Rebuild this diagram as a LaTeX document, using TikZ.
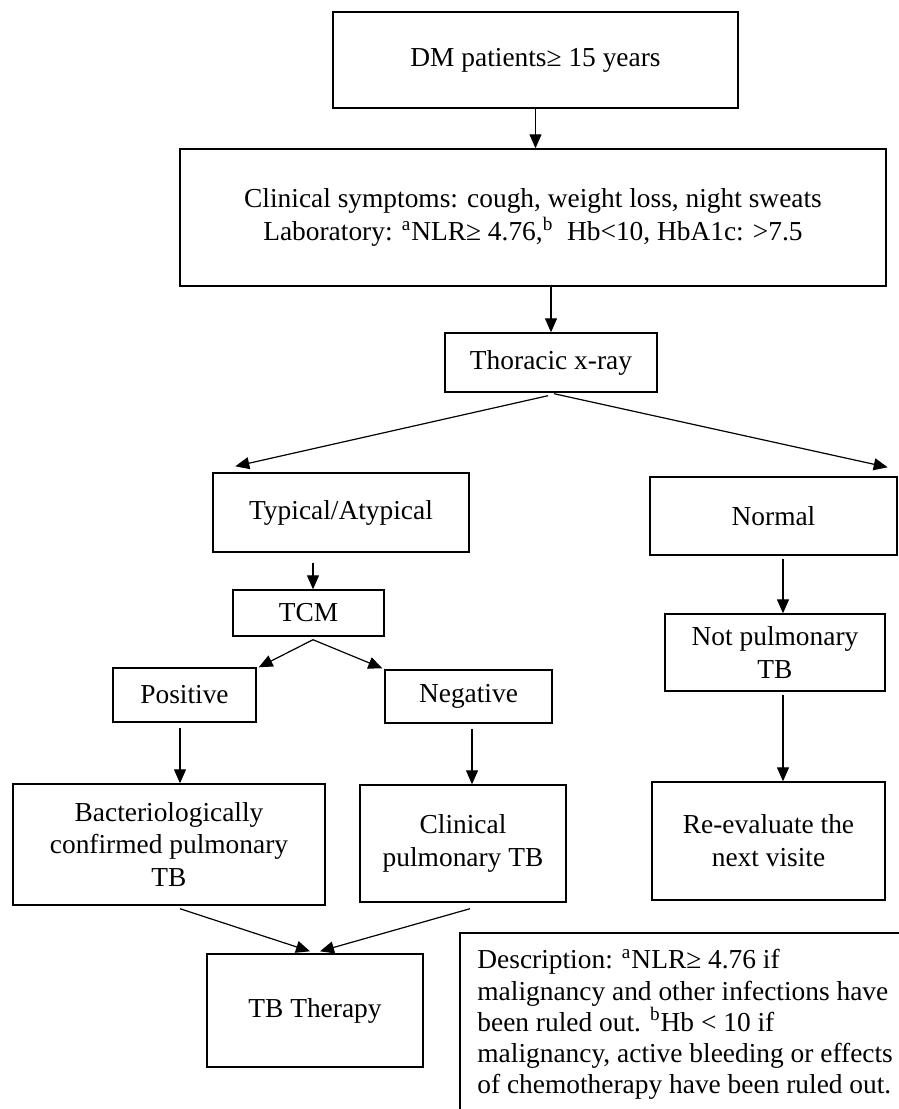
\documentclass[tikz,border=0pt]{standalone}
\usepackage{fontspec}
\setmainfont{Liberation Serif}
\usetikzlibrary{arrows.meta,calc}
\begin{document}
\begin{tikzpicture}[x=0.5pt,y=-0.5pt,
  font=\fontsize{13.7}{16.4}\selectfont,
  box/.style={draw, line width=0.7pt, inner sep=2pt, align=center},
  arr/.style={-{Triangle[length=7pt,width=6pt]}, line width=0.6pt},
  frame/.style={line width=0.7pt}]
\useasboundingbox (0,0) rectangle (899,1109);

\node[box, minimum width=202.5pt, minimum height=48pt] (dm) at (535.5,60) {DM patients≥ 15 years};
\node[box, minimum width=353pt, minimum height=68.5pt] (clin) at (533,217.5)
  {Clinical symptoms: cough, weight loss, night sweats\\ Laboratory: \textsuperscript{a}NLR≥ 4.76,\textsuperscript{b}\ \ Hb<10, HbA1c: >7.5};
\node[box, minimum width=106pt, minimum height=29.5pt] (thor) at (551,362.5) {Thoracic x-ray};
\node[box, minimum width=128pt, minimum height=39.5pt] (typ) at (341,512.5) {Typical/Atypical};
\node[box, minimum width=123.5pt, minimum height=39pt] (norm) at (773.5,516) {Normal};
\node[box, minimum width=75.5pt, minimum height=23pt] (tcm) at (308.5,613) {TCM};
\node[box, minimum width=71.5pt, minimum height=27pt] (pos) at (184.5,695) {Positive};
\node[box, minimum width=83.5pt, minimum height=26.5pt] (neg) at (468.5,696.5) {Negative};
\node[box, minimum width=110pt, minimum height=38.5pt] (notp) at (775,652.5) {Not pulmonary\\ TB};
\node[box, minimum width=156pt, minimum height=60.5pt] (bact) at (169,844.5) {Bacteriologically\\ confirmed pulmonary\\ TB};
\node[box, minimum width=103pt, minimum height=58.5pt] (cpul) at (463,843.5) {Clinical\\ pulmonary TB};
\node[box, minimum width=116.5pt, minimum height=59pt] (reev) at (768.5,841) {Re-evaluate the\\ next visite};
\node[box, minimum width=108pt, minimum height=56.5pt] (tbt) at (315,1010.5) {TB Therapy};

% description frame (open to the right and bottom)
\coordinate (fa) at (460,1109);
\coordinate (fb) at (460,933);
\coordinate (fc) at (899,933);
\draw[frame] (fa) -- (fb) -- (fc);
\node[anchor=north west, inner sep=0pt, align=left, font=\fontsize{13.7}{15.6}\selectfont] (desc) at (477,949)
  {Description: \textsuperscript{a}NLR≥ 4.76 if\\ malignancy and other infections have\\ been ruled out. \textsuperscript{b}Hb < 10 if\\ malignancy, active bleeding or effects\\ of chemotherapy have been ruled out.};

% connectors
\draw[arr] (dm.south) -- (dm.south |- clin.north);
\draw[arr] (thor.north |- clin.south) -- (thor.north);
\draw[arr] ($(thor.south)+(-3,3)$) -- ($(typ.north west)+(23,-6)$);
\draw[arr] ($(thor.south)+(3,1)$) -- ($(norm.north east)+(-10,-9)$);
\draw[arr] ($(typ.south)+(-28,10)$) -- ($(tcm.north)+(4.5,0)$);
\draw[arr] ($(tcm.south)+(4.5,3)$) -- ($(pos.north east)+(2,0)$);
\draw[arr] ($(tcm.south)+(4.5,3)$) -- ($(neg.north west)+(-2,-1)$);
\coordinate (p1) at ($(pos.south)+(-4.5,5)$);
\draw[arr] (p1) -- (p1 |- bact.north);
\coordinate (n1) at ($(neg.south)+(3.5,5)$);
\draw[arr] (n1) -- (n1 |- cpul.north);
\coordinate (q1) at ($(norm.south)+(9.5,3)$);
\draw[arr] (q1) -- (q1 |- notp.north);
\coordinate (r1) at ($(notp.south)+(8,3)$);
\draw[arr] (r1) -- (r1 |- reev.north);
\draw[arr] ($(bact.south)+(11,3)$) -- ($(tbt.north)+(-5,-2)$);
\draw[arr] ($(cpul.south)+(7,6)$) -- ($(tbt.north)+(5,-2)$);
\end{tikzpicture}
\end{document}
